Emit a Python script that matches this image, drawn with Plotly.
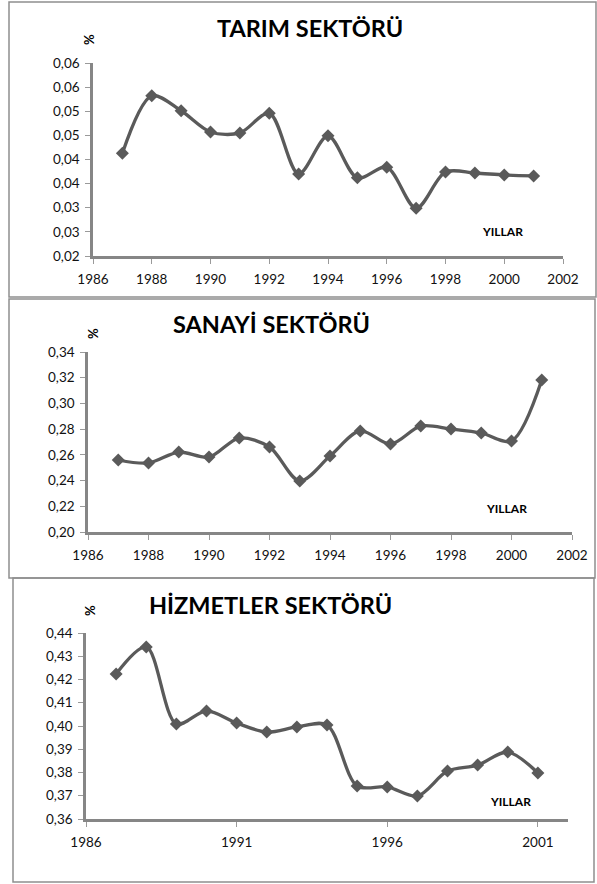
import plotly.graph_objects as go

W, H = 597, 884

years = list(range(1987, 2002))

tarim = [0.0413, 0.0532, 0.0501, 0.0457, 0.0455, 0.0496, 0.0370, 0.0449,
         0.0362, 0.0384, 0.0299, 0.0374, 0.0372, 0.0368, 0.0366]
sanayi = [0.2560, 0.2537, 0.2622, 0.2583, 0.2731, 0.2661, 0.2397, 0.2591,
          0.2786, 0.2684, 0.2824, 0.2801, 0.2770, 0.2708, 0.3182]
hizmet = [0.4224, 0.4340, 0.4009, 0.4065, 0.4013, 0.3974, 0.3996, 0.4004,
          0.3742, 0.3738, 0.3699, 0.3806, 0.3832, 0.3888, 0.3798]

tarim_ytickvals = [0.020, 0.025, 0.030, 0.035, 0.040, 0.045, 0.050, 0.055, 0.060]
tarim_yticktext = ["0,02", "0,03", "0,03", "0,04", "0,04", "0,05", "0,05", "0,06", "0,06"]
sanayi_ytickvals = [0.20, 0.22, 0.24, 0.26, 0.28, 0.30, 0.32, 0.34]
sanayi_yticktext = ["0,20", "0,22", "0,24", "0,26", "0,28", "0,30", "0,32", "0,34"]
hizmet_ytickvals = [0.36, 0.37, 0.38, 0.39, 0.40, 0.41, 0.42, 0.43, 0.44]
hizmet_yticktext = ["0,36", "0,37", "0,38", "0,39", "0,40", "0,41", "0,42", "0,43", "0,44"]
xticks_12 = [1986, 1988, 1990, 1992, 1994, 1996, 1998, 2000, 2002]
xticks_3 = [1986, 1991, 1996, 2001]

titles = ["TARIM SEKTÖRÜ", "SANAYİ SEKTÖRÜ", "HİZMETLER SEKTÖRÜ"]

LINE = "#5a5a5a"
AX = "#868686"
BORDER = "#8e8e8e"
FONT = "Lato"


def px(x):
    return x / W


def py(y):
    return 1 - y / H


fig = go.Figure()
series = [tarim, sanayi, hizmet]
for i, s in enumerate(series):
    fig.add_trace(go.Scatter(
        x=years, y=s, mode="lines+markers",
        line=dict(color=LINE, width=3.3, shape="spline", smoothing=0.9),
        marker=dict(symbol="diamond", size=10, color=LINE),
        xaxis="x" if i == 0 else f"x{i+1}",
        yaxis="y" if i == 0 else f"y{i+1}",
        showlegend=False, hoverinfo="x+y",
    ))

panels = [
    dict(x=(93, 563), y=(63, 256), yr=[0.02, 0.06], yv=tarim_ytickvals, yt=tarim_yticktext,
         xr=[1986, 2002], xv=xticks_12),
    dict(x=(88, 572), y=(352, 532), yr=[0.20, 0.34], yv=sanayi_ytickvals, yt=sanayi_yticktext,
         xr=[1986, 2002], xv=xticks_12),
    dict(x=(86, 568), y=(633, 819), yr=[0.36, 0.44], yv=hizmet_ytickvals, yt=hizmet_yticktext,
         xr=[1986, 2002], xv=xticks_3),
]

layout = dict(
    template="none",
    width=W, height=H, margin=dict(l=0, r=0, t=0, b=0, pad=0, autoexpand=False),
    paper_bgcolor="white", plot_bgcolor="white",
    font=dict(family=FONT, color="#000000", size=12),
)
for i, p in enumerate(panels):
    xa = "xaxis" if i == 0 else f"xaxis{i+1}"
    ya = "yaxis" if i == 0 else f"yaxis{i+1}"
    xref = "x" if i == 0 else f"x{i+1}"
    yref = "y" if i == 0 else f"y{i+1}"
    layout[xa] = dict(
        domain=[px(p["x"][0]), px(p["x"][1])], range=p["xr"], anchor=yref,
        tickvals=p["xv"], ticktext=[str(v) for v in p["xv"]], automargin=False,
        showgrid=False, zeroline=False, showline=True, linecolor=AX, linewidth=2.5,
        ticks="outside", ticklen=5, tickcolor="#9a9a9a", tickwidth=1.2,
        ticklabelstandoff=4,
        tickfont=dict(family=FONT, size=13.5, color="#111111"),
    )
    layout[ya] = dict(
        domain=[py(p["y"][1]), py(p["y"][0])], range=p["yr"], anchor=xref,
        tickvals=p["yv"], ticktext=p["yt"], automargin=False,
        showgrid=False, zeroline=False, showline=True, linecolor=AX, linewidth=2.5,
        ticks="outside", ticklen=5, tickcolor="#9a9a9a", tickwidth=1.2,
        ticklabelstandoff=3,
        tickfont=dict(family=FONT, size=13.5, color="#111111"),
    )
fig.update_layout(**layout)

# Panel borders
boxes = [(9, 2, 596, 297), (9, 299, 595, 578), (13, 578, 594, 882)]
for (x0, y0, x1, y1) in boxes:
    fig.add_shape(type="rect", xref="paper", yref="paper",
                  x0=px(x0), x1=px(x1), y0=py(y1), y1=py(y0),
                  line=dict(color=BORDER, width=1.5), fillcolor="rgba(0,0,0,0)")

# Titles, % labels, YILLAR labels
title_pos = [(310, 28), (271, 324), (270, 605)]
pct_pos = [(89, 40), (93, 334), (90, 610)]
yillar_pos = [(503, 232), (506, 509), (510, 801)]
for i in range(3):
    fig.add_annotation(xref="paper", yref="paper", x=px(title_pos[i][0]), y=py(title_pos[i][1]),
                       text=f"<b>{titles[i]}</b>", showarrow=False,
                       font=dict(family=FONT, size=23.5, color="#000000"),
                       xanchor="center", yanchor="middle")
    fig.add_annotation(xref="paper", yref="paper", x=px(pct_pos[i][0]), y=py(pct_pos[i][1]),
                       text="<b>%</b>", showarrow=False, textangle=-90,
                       font=dict(family=FONT, size=13, color="#000000"),
                       xanchor="center", yanchor="middle")
    fig.add_annotation(xref="paper", yref="paper", x=px(yillar_pos[i][0]), y=py(yillar_pos[i][1]),
                       text="<b>YILLAR</b>", showarrow=False,
                       font=dict(family=FONT, size=12, color="#000000"),
                       xanchor="center", yanchor="middle")

fig.write_html(
    "out.html",
    config={"displayModeBar": False},
    post_script="document.body.style.margin='0';document.body.style.overflow='hidden';",
)
